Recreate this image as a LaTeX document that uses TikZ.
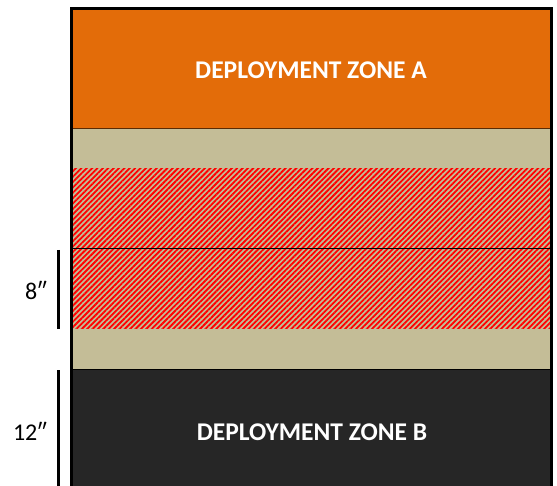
\documentclass[tikz,border=0pt]{standalone}
\usepackage{fontspec}
\setmainfont{Carlito}
\usetikzlibrary{patterns.meta}
\definecolor{zoneorange}{HTML}{E36C09}
\definecolor{groundtan}{HTML}{C4BD97}
\definecolor{zonedark}{HTML}{262626}
\tikzset{
  zonelabel/.style={text=white,font=\fontsize{25.5}{30}\selectfont\bfseries},
  rangelabel/.style={font=\fontsize{24}{28}\selectfont},
  measure/.style={line width=3.5pt},
  hatch/.style={pattern={Lines[angle=45,distance=3.8pt,line width=1.8pt]},pattern color=red}
}
\begin{document}
\begin{tikzpicture}[x=1pt,y=-1pt]
\useasboundingbox (0,0) rectangle (557,486);
% board
\fill[zoneorange] (71,9) rectangle (551,129);
\fill[groundtan] (71,129) rectangle (551,369);
\fill[hatch] (71,169) rectangle (551,329);
\fill[zonedark] (71,369) rectangle (551,486);
\draw[zoneorange!40!black, line width=1pt] (71,129) -- (551,129);
\draw[line width=1pt] (71,249) -- (551,249);
\draw[line width=1pt] (71,369) -- (551,369);
\draw[line width=3pt] (71,486) -- (71,9) -- (551,9) -- (551,486);
\node[zonelabel] (zoneA) at (311,70) {DEPLOYMENT ZONE A};
\node[zonelabel] (zoneB) at (312,432) {DEPLOYMENT ZONE B};
% ranges
\coordinate (eighttop) at (58.5,250);
\coordinate (eightbot) at (58.5,329);
\coordinate (twelvetop) at (58.5,370);
\coordinate (twelvebot) at (58.5,486);
\draw[measure] (eighttop) -- (eightbot);
\draw[measure] (twelvetop) -- (twelvebot);
\node[rangelabel] (eight) at (36,290) {8″};
\node[rangelabel] (twelve) at (30,431) {12″};
\end{tikzpicture}
\end{document}
